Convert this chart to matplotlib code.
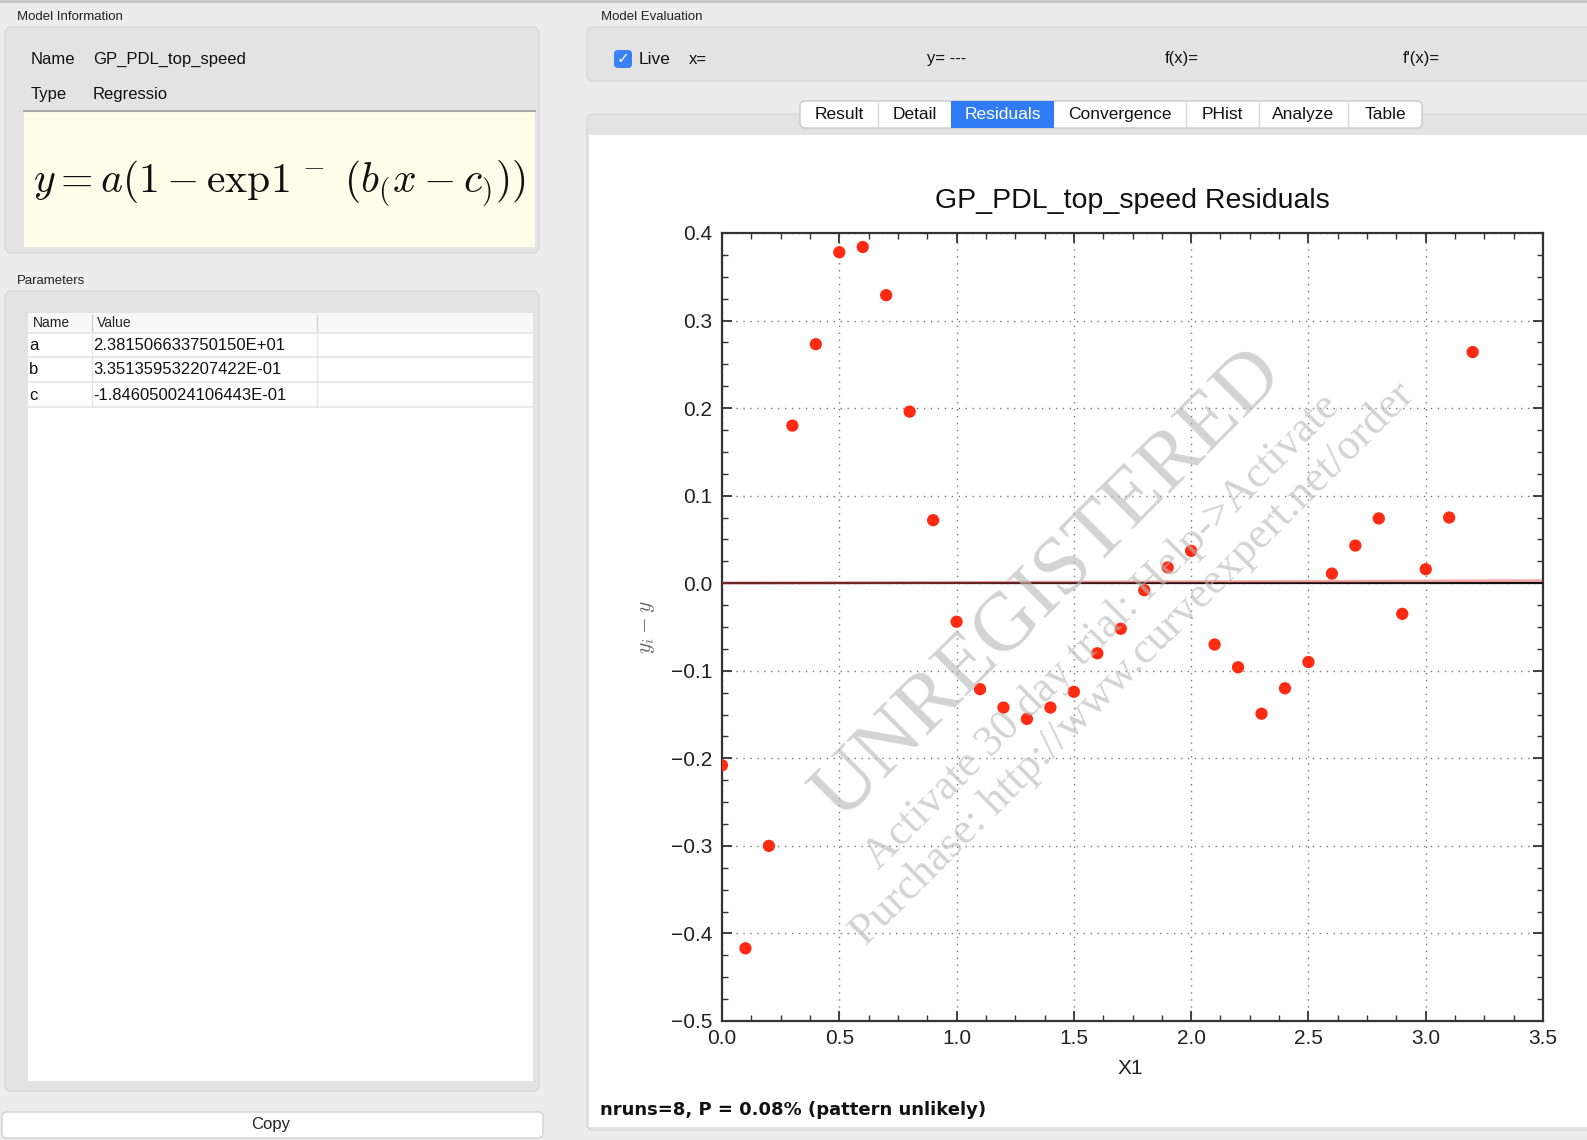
import numpy as np
import matplotlib.pyplot as plt
from matplotlib.patches import FancyBboxPatch, Rectangle
from matplotlib.ticker import MultipleLocator

plt.rcParams['font.family'] = ['Liberation Sans', 'DejaVu Sans']
plt.rcParams['mathtext.fontset'] = 'cm'

W, H = 1587, 1140

# residuals of the fitted model, one per X1 value
x1 = [0.0, 0.1, 0.2, 0.3, 0.4, 0.5, 0.6, 0.7, 0.8, 0.9, 1.0,
      1.1, 1.2, 1.3, 1.4, 1.5, 1.6, 1.7, 1.8, 1.9, 2.0,
      2.1, 2.2, 2.3, 2.4, 2.5, 2.6, 2.7, 2.8, 2.9, 3.0, 3.1, 3.2]
residuals = [-0.208, -0.417, -0.300, 0.180, 0.273, 0.378, 0.384, 0.329, 0.196, 0.072, -0.044,
             -0.121, -0.142, -0.155, -0.142, -0.124, -0.080, -0.052, -0.008, 0.018, 0.037,
             -0.070, -0.096, -0.149, -0.120, -0.090, 0.011, 0.043, 0.074, -0.035, 0.016, 0.075, 0.264]

# trend line through the residuals
trend_x = [0.0, 3.5]
trend_y = [0.0, 0.003]

model_name = 'GP_PDL_top_speed'
model_type = 'Regressio'
param_names = ['a', 'b', 'c']
param_values = ['2.381506633750150E+01', '3.351359532207422E-01', '-1.846050024106443E-01']
tabs = ['Result', 'Detail', 'Residuals', 'Convergence', 'PHist', 'Analyze', 'Table']
tab_edges = [800, 878, 951, 1054, 1186, 1259, 1348, 1422]
active_tab = 'Residuals'
eval_labels = [('x=', 689), ('y= ---', 927), ('f(x)=', 1165), ("f'(x)=", 1403)]
runs_text = 'nruns=8, P = 0.08% (pattern unlikely)'

fig = plt.figure(figsize=(W / 100, H / 100), dpi=100)
fig.patch.set_facecolor('#ececec')

# background layer in pixel units (origin top-left)
bg = fig.add_axes([0, 0, 1, 1])
bg.set_xlim(0, W)
bg.set_ylim(H, 0)
bg.axis('off')


def box(x0, y0, x1_, y1_, fc, ec='none', r=0, lw=1, z=1):
    p = FancyBboxPatch((x0, y0), x1_ - x0, y1_ - y0,
                       boxstyle=f'round,pad=0,rounding_size={r}',
                       fc=fc, ec=ec, lw=lw, zorder=z)
    bg.add_patch(p)
    return p


bg.plot([0, W], [1, 1], color='#c4c4c4', lw=2)

# left column: model information
bg.text(17, 17, 'Model Information', fontsize=9.5, va='center', color='#222')
box(5, 27, 539, 253, '#e3e3e3', '#d9d9d9', r=6)
bg.text(31, 59, 'Name', fontsize=12, va='center', color='#111')
bg.text(93, 59, model_name, fontsize=12, va='center', color='#111')
bg.text(31, 94, 'Type', fontsize=12, va='center', color='#111')
bg.text(93, 94, model_type, fontsize=12, va='center', color='#111')
box(24, 111, 535, 247, '#fefde9', z=2)
bg.plot([24, 535], [111, 111], color='#a8a8a8', lw=1.5, zorder=3)
bg.text(279, 183, r'$y = a(1 - \mathrm{exp}1^{\,-}\ (b_{(}x - c_{)}))$',
        fontsize=30, ha='center', va='center', color='#111', zorder=4)

# parameters table
bg.text(17, 281, 'Parameters', fontsize=9.5, va='center', color='#222')
box(5, 291, 539, 1091, '#e3e3e3', '#d9d9d9', r=6)
box(28, 313, 533, 1081, 'white', z=2)
box(28, 313, 533, 333, '#f8f8f8', z=2)
bg.text(33, 323, 'Name', fontsize=10, va='center', color='#222', zorder=4)
bg.text(97, 323, 'Value', fontsize=10, va='center', color='#222', zorder=4)
bg.plot([92, 92], [315, 331], color='#d0d0d0', lw=1, zorder=3)
bg.plot([317, 317], [315, 331], color='#d0d0d0', lw=1, zorder=3)
row_y = [345, 370, 395]
for name, val, ry in zip(param_names, param_values, row_y):
    bg.text(29, ry, name, fontsize=12, va='center', color='#111', zorder=4)
    bg.text(93, ry, val, fontsize=12, va='center', color='#111', zorder=4)
    bg.plot([28, 533], [ry + 12, ry + 12], color='#e8e8e8', lw=1.5, zorder=3)
bg.plot([28, 533], [333, 333], color='#e8e8e8', lw=1.5, zorder=3)
bg.plot([92, 92], [333, 407], color='#e4e4e4', lw=1, zorder=3)
bg.plot([317, 317], [333, 407], color='#e4e4e4', lw=1, zorder=3)

box(2, 1112, 543, 1138, 'white', '#d0d0d0', r=5)
bg.text(271, 1125, 'Copy', fontsize=12, ha='center', va='center', color='#222')

# right column: model evaluation
bg.text(601, 17, 'Model Evaluation', fontsize=9.5, va='center', color='#222')
box(587, 27, 1600, 81, '#e3e3e3', '#d9d9d9', r=6)
box(614, 50, 632, 68, '#3b82f6', r=4, z=2)
bg.text(623, 59, '\u2713', fontsize=11, ha='center', va='center', color='white',
        family='DejaVu Sans', zorder=3)
bg.text(639, 59, 'Live', fontsize=12.5, va='center', color='#111')
for lab, lx in eval_labels:
    bg.text(lx, 59, lab, fontsize=12, va='center', color='#111')

box(587, 114, 1600, 1130, '#e3e3e3', '#d9d9d9', r=6)
box(589, 135, 1600, 1127, 'white', z=2)
box(tab_edges[0], 101, tab_edges[-1], 128, 'white', '#c9c9c9', r=5, z=3)
for i, t in enumerate(tabs):
    left, right = tab_edges[i], tab_edges[i + 1]
    col = '#111'
    if t == active_tab:
        bg.add_patch(Rectangle((left, 101), right - left, 27, fc='#2f7cf6', ec='none', zorder=4))
        col = 'white'
    elif i > 0 and tabs[i - 1] != active_tab:
        bg.plot([left, left], [103, 126], color='#d8d8d8', lw=1, zorder=4)
    bg.text((left + right) / 2, 114.5, t, fontsize=12.5, ha='center', va='center',
            color=col, zorder=5)

bg.text(600, 1110, runs_text, fontsize=13, weight='bold', va='center', color='#111',
        family=['Liberation Sans Narrow', 'DejaVu Sans'], zorder=4)

# residual plot
ax = fig.add_axes([722 / W, 1 - 1021 / H, (1543 - 722) / W, (1021 - 233) / H])
ax.set_facecolor('white')
ax.set_zorder(5)
ax.set_xlim(0, 3.5)
ax.set_ylim(-0.5, 0.4)
ax.xaxis.set_major_locator(MultipleLocator(0.5))
ax.xaxis.set_minor_locator(MultipleLocator(0.125))
ax.yaxis.set_major_locator(MultipleLocator(0.1))
ax.yaxis.set_minor_locator(MultipleLocator(0.025))
ax.xaxis.set_major_formatter(plt.FormatStrFormatter('%.1f'))
ax.yaxis.set_major_formatter(plt.FuncFormatter(lambda v, p: f'{v:.1f}'.replace('-', '\u2212')))
ax.tick_params(which='both', direction='in', top=True, right=True, colors='#333',
               labelcolor='#222', labelsize=15)
ax.tick_params(which='major', length=7, width=1.3)
ax.tick_params(which='minor', length=4, width=1)
ax.tick_params(axis='y', pad=7)
ax.tick_params(axis='x', pad=6)
for s in ax.spines.values():
    s.set_color('#333')
    s.set_linewidth(1.6)
ax.grid(True, which='major', linestyle=(0, (1, 4)), color='#777', lw=1)

ax.axhline(0, color='#111', lw=1.6, zorder=3)
ax.plot(trend_x, trend_y, color='#e84040', lw=2, alpha=0.45, zorder=3)
ax.scatter(x1, residuals, s=78, color='#ff2a12', edgecolors='none', zorder=4)

ax.text(0.5, 1.041, f'{model_name} Residuals', transform=ax.transAxes,
        ha='center', va='center', fontsize=20.5, color='#111')
ax.set_xlabel('X1', fontsize=15, color='#222')
ax.xaxis.set_label_coords(0.497, -0.048)
ax.set_ylabel(r'$y_i - y$', fontsize=15.5, color='#666')
ax.yaxis.set_label_coords(-0.079, 0.5)

# trial watermark across the plot
wm = dict(rotation=45, ha='center', va='center', color='#b8b8b8', alpha=0.62,
          family=['Liberation Serif', 'DejaVu Serif'], zorder=20)
fig.text(1049 / W, 1 - 585 / H, 'UNREGISTERED', fontsize=60, **wm)
fig.text(1102 / W, 1 - 632 / H, 'Activate 30 day trial: Help->Activate', fontsize=31.5, **wm)
fig.text(1133 / W, 1 - 664 / H, 'Purchase: http://www.curveexpert.net/order', fontsize=32, **wm)

fig.savefig('out.png', dpi=100, facecolor=fig.get_facecolor())
